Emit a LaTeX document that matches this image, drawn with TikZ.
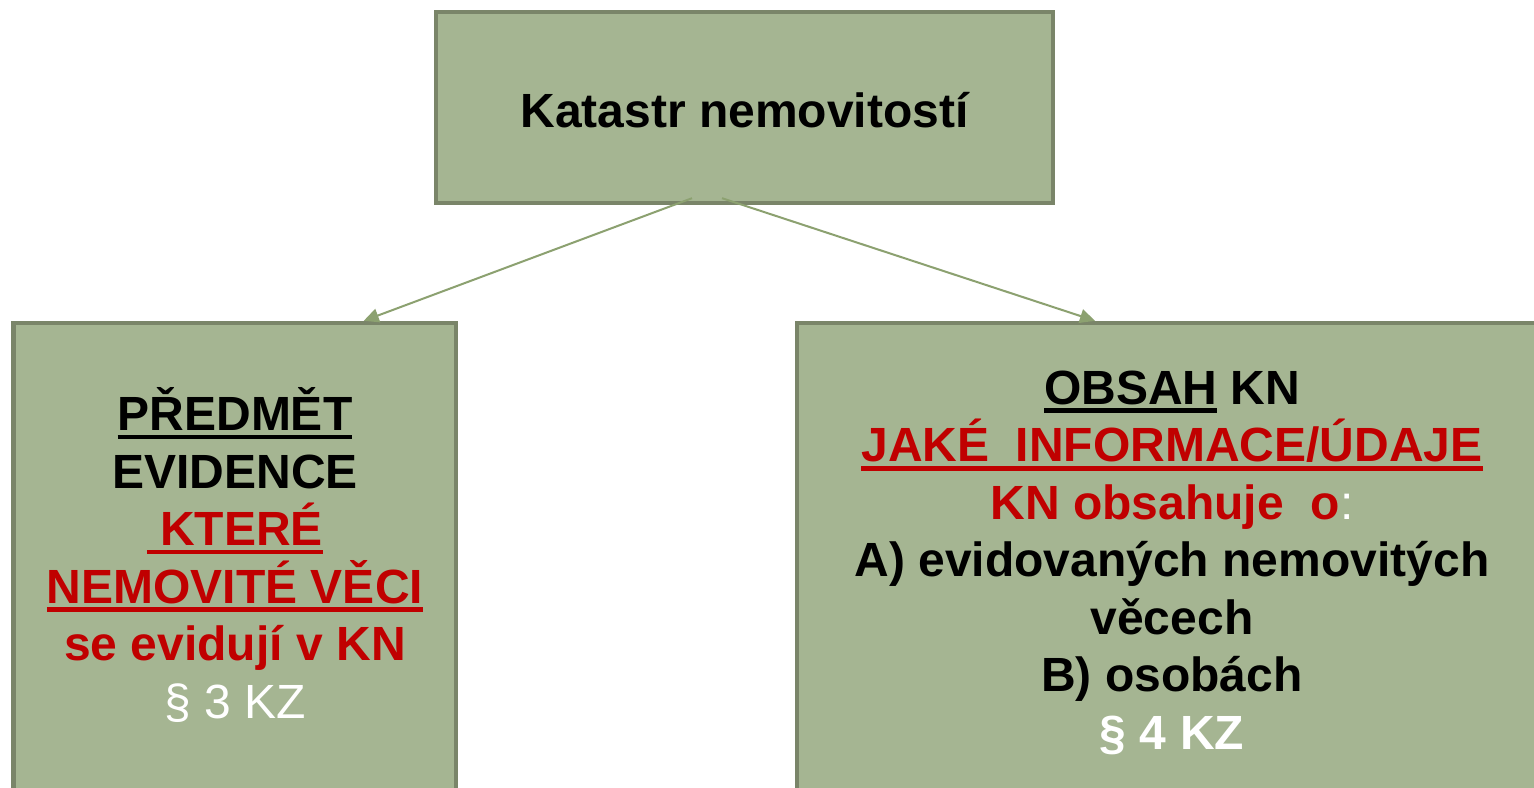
\documentclass[tikz,border=0pt]{standalone}
\usepackage{fontspec}
\setmainfont{Liberation Sans}
\usetikzlibrary{arrows.meta}
\definecolor{boxfill}{RGB}{165,181,146}
\definecolor{boxedge}{RGB}{122,133,105}
\definecolor{linkgreen}{RGB}{140,161,112}
\definecolor{kzred}{RGB}{192,0,0}
\newcommand{\undl}[1]{%
  % rule just under the baseline, in the colour of the text
  \vtop{\hbox{#1}\kern2pt\hrule height 2.2pt}%
}

\begin{document}
\begin{tikzpicture}[x=0.5pt,y=-0.5pt,
    kzbox/.style={draw=boxedge,fill=boxfill,line width=2.2pt,inner sep=0pt},
    kztext/.style={align=center,anchor=base,
      font=\fontsize{24}{28.75}\selectfont\bfseries},
    kzlink/.style={linkgreen,line width=1pt,-{Triangle[length=7.5pt,width=7pt]}}]
    \fill[white] (0,0) rectangle (1534,787);
    \useasboundingbox (0,0) rectangle (1534,787);
    \clip (0,0) rectangle (1534,787);
    \node[kzbox,minimum width=308.5pt,minimum height=95.5pt] (topbox) at (744.5,107.5) {};
    \node[kzbox,minimum width=221.25pt,minimum height=253.5pt] (leftbox) at (234.75,576.5) {};
    \node[kzbox,minimum width=381.5pt,minimum height=253.5pt] (rightbox) at (1178.5,576.5) {};
    % base of a multi-line node is its last line
    \node[kztext] (titletext) at (744.5,127) {Katastr nemovitostí};
    \node[kztext] (lefttext) at (235,718) {\undl{PŘEDMĚT}\\
      EVIDENCE\\
      {\color{kzred}\undl{\ KTERÉ}}\\
      {\color{kzred}\undl{NEMOVITÉ VĚCI}}\\
      {\color{kzred}se evidují v KN}\\
      {\color{white}\mdseries § 3 KZ}};
    \node[kztext] (righttext) at (1172,749) {\undl{OBSAH} KN\\
      {\color{kzred}\undl{JAKÉ\ \ INFORMACE/ÚDAJE}}\\
      {\color{kzred}KN obsahuje\ \ o}{\color{white}\mdseries:}\\
      A) evidovaných nemovitých\\
      věcech\\
      B) osobách\\
      {\color{white}§ 4 KZ}};
    \draw[kzlink] ([shift={(-52.5,-7)}]topbox.south) -- ([shift={(129,0)}]leftbox.north);
    \draw[kzlink] ([shift={(-22.5,-7)}]topbox.south) -- ([shift={(-83.5,0)}]rightbox.north);
  \end{tikzpicture}
\end{document}
